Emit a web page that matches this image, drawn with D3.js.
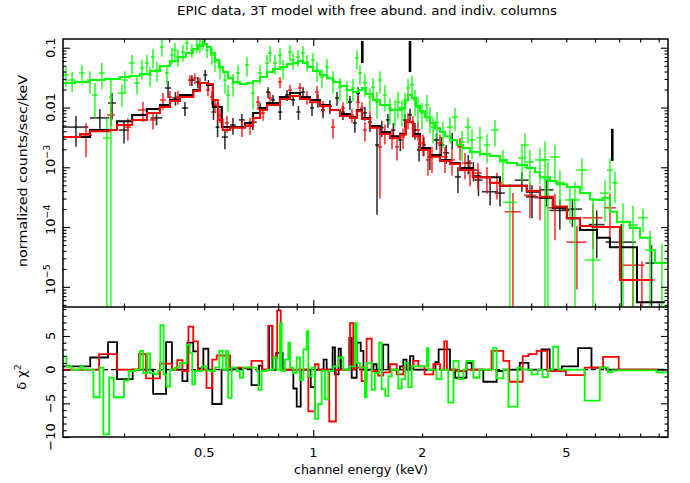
<!DOCTYPE html>
<html><head><meta charset="utf-8">
<script src="https://cdn.jsdelivr.net/npm/d3@7"></script>
<style>body{margin:0;background:#fff}svg{display:block}</style>
</head><body>
<svg id="c" width="690" height="483"></svg>
<script>
const titleText = "EPIC data, 3T model with free abund. and indiv. columns";
const xLabelText = "channel energy (keV)";
const yLabelText = "normalized counts/sec/keV";

// ---- data points (keV centre, half width, counts/s/keV, error)
const blkE = [0.221,0.2573,0.278,0.30,0.369,0.397,0.416,0.442,0.462,0.48,0.503,0.513,0.53,0.544,0.57,0.60,0.635,0.681,0.713,0.75,0.774,0.81,0.846,0.88,0.91,0.937,0.992,1.03,1.064,1.112,1.163,1.208,1.263,1.303,1.33,1.389,1.434,1.5,1.546,1.608,1.665,1.74,1.79,1.85,1.91,1.96,2.02,2.1,2.19,2.26,2.33,2.42,2.51,2.68,2.77,2.86,3.08,3.28,3.77,4.02,4.41,4.8,5.2,6.07,7.1,8.6];
const blkDE = [0.018,0.016,0.007,0.0095,0.014,0.0076,0.008,0.0085,0.0088,0.0061,0.0064,0.0065,0.0067,0.0069,0.011,0.011,0.012,0.017,0.009,0.0095,0.0098,0.0103,0.0108,0.0112,0.0116,0.0119,0.0126,0.0131,0.0135,0.0141,0.0148,0.0154,0.016,0.0166,0.0169,0.0177,0.0182,0.019,0.0197,0.0205,0.0212,0.0221,0.0228,0.0235,0.0243,0.025,0.0257,0.0267,0.042,0.043,0.0445,0.046,0.048,0.068,0.07,0.073,0.157,0.104,0.168,0.153,0.196,0.305,0.33,0.31,0.68,0.33];
const blkV = [0.0047,0.0067,0.0119,0.0042,0.0067,0.0212,0.0144,0.0098,0.0288,0.0267,0.035,0.0238,0.0084,0.0047,0.0032,0.0051,0.0062,0.0057,0.0098,0.0181,0.0134,0.0084,0.0162,0.0134,0.0084,0.0181,0.0098,0.0134,0.0091,0.0105,0.0144,0.0084,0.0124,0.0055,0.0174,0.0081,0.0057,0.00236,0.0046,0.0062,0.0042,0.00286,0.0062,0.0075,0.0042,0.00195,0.00236,0.0015,0.00286,0.00236,0.00174,0.00286,0.00069,0.00118,0.0009,0.00061,0.00039,0.00037,0.00061,0.00032,0.00042,0.00019,0.0002,0.00011,5.6e-5,2.5e-5];
const blkErr = [0.0025,0.0027,0.0056,0.0017,0.0017,0.0066,0.0037,0.0026,0.006,0.0056,0.0074,0.005,0.0022,0.0015,0.0012,0.0016,0.0016,0.0015,0.0021,0.0038,0.0028,0.0022,0.0034,0.0028,0.0022,0.0038,0.0026,0.0035,0.0024,0.0027,0.0037,0.0022,0.0032,0.0017,0.0045,0.0021,0.0018,0.0022,0.0014,0.0016,0.0013,0.001,0.0016,0.002,0.0013,0.0007,0.00085,0.0006,0.0009,0.00085,0.0006,0.0009,0.00032,0.00042,0.00032,0.00028,0.00016,0.00015,0.00022,0.00018,0.0002,0.0001,0.0001,0.00008,5.6e-5,2.5e-5];

const redE = [0.2355,0.276,0.3075,0.3384,0.3608,0.3843,0.4018,0.4226,0.4563,0.471,0.4863,0.5118,0.525,0.535,0.5524,0.5777,0.6354,0.6687,0.7036,0.7264,0.7595,0.8094,0.8627,0.919,0.9605,1.024,1.0636,1.1335,1.208,1.279,1.329,1.363,1.389,1.434,1.528,1.577,1.65,1.703,1.77,1.827,1.885,1.947,2.01,2.074,2.128,2.239,2.311,2.417,2.543,2.625,2.71,2.851,3.019,3.217,3.561,3.968,4.229,4.653,5.351,5.925,6.601,7.642,8.09];
const redDE = [0.009,0.007,0.0059,0.0108,0.0069,0.0073,0.0051,0.0054,0.0058,0.006,0.0062,0.0065,0.0067,0.0068,0.007,0.0074,0.012,0.0128,0.009,0.0092,0.0097,0.0103,0.011,0.0117,0.0122,0.013,0.0135,0.0144,0.0154,0.0163,0.0169,0.0173,0.0177,0.0182,0.0194,0.02,0.021,0.0217,0.0225,0.0232,0.024,0.0248,0.0256,0.0264,0.027,0.0427,0.044,0.046,0.0485,0.05,0.069,0.0725,0.096,0.123,0.181,0.151,0.161,0.237,0.34,0.377,0.252,0.583,0.617];
const redV = [0.00347,0.0075,0.0047,0.0091,0.0062,0.0134,0.015,0.015,0.0288,0.031,0.0257,0.0196,0.015,0.011,0.0075,0.0055,0.0047,0.0051,0.0123,0.0081,0.0144,0.0267,0.0196,0.0212,0.015,0.0181,0.0102,0.0047,0.0098,0.0075,0.0123,0.0098,0.0042,0.0067,0.0022,0.0038,0.0032,0.0022,0.0032,0.0062,0.0055,0.0042,0.00255,0.00133,0.0015,0.00255,0.0015,0.00133,0.0022,0.00118,0.0009,0.0008,0.00068,0.00055,0.00018,0.00034,0.00031,0.00021,5.6e-5,0.000143,0.00021,2.3e-5,1.3e-5];
const redErr = [0.002,0.0027,0.0019,0.0033,0.0019,0.0042,0.0039,0.0039,0.006,0.0065,0.0054,0.0041,0.0039,0.0029,0.002,0.0017,0.0015,0.0016,0.0032,0.0021,0.0037,0.0056,0.0041,0.0045,0.0039,0.0047,0.0027,0.0017,0.0025,0.002,0.0032,0.0025,0.0015,0.0021,0.0019,0.0014,0.0012,0.0009,0.0012,0.0019,0.0017,0.0015,0.001,0.0006,0.0007,0.001,0.0007,0.0006,0.0009,0.00055,0.00042,0.00038,0.00032,0.00026,0.00019,0.0002,0.00018,0.00015,4.7e-5,0.0001,0.00015,2.4e-5,1.35e-5];

const grnE = [0.2073,0.2157,0.2296,0.2416,0.2494,0.2606,0.269,0.276,0.296,0.3016,0.3154,0.3257,0.3362,0.347,0.354,0.3608,0.3699,0.3818,0.3942,0.407,0.4148,0.4226,0.4363,0.4477,0.4621,0.4771,0.4863,0.4957,0.5085,0.525,0.535,0.5524,0.5702,0.5814,0.6002,0.6195,0.656,0.6816,0.7126,0.7451,0.7595,0.784,0.8094,0.825,0.8627,0.8794,0.9074,0.9367,0.9605,0.9979,1.024,1.057,1.091,1.1335,1.185,1.239,1.287,1.32,1.346,1.389,1.434,1.462,1.499,1.528,1.577,1.629,1.682,1.714,1.758,1.792,1.827,1.874,1.91,1.947,1.997,2.061,2.101,2.142,2.197,2.282,2.386,2.463,2.576,2.676,2.745,2.887,3.019,3.176,3.342,3.494,3.772,3.844,3.968,4.229,4.366,4.45,4.653,4.803,5.118,5.283,5.525,5.925,6.394,6.601,6.814,7.171,7.642,8.143,8.514,9.19];
const grnDE = [0.004,0.0055,0.0044,0.0046,0.0048,0.005,0.0068,0.0035,0.0075,0.0058,0.006,0.006,0.0043,0.0044,0.0045,0.0046,0.0047,0.0049,0.005,0.0052,0.0053,0.0054,0.0055,0.0057,0.0059,0.006,0.0062,0.0063,0.0065,0.0067,0.0068,0.007,0.0073,0.0074,0.0076,0.0079,0.0083,0.0087,0.009,0.0095,0.0097,0.01,0.0103,0.0105,0.011,0.0112,0.0115,0.0119,0.0122,0.0127,0.013,0.0134,0.0139,0.0144,0.015,0.0158,0.0164,0.0168,0.0171,0.0177,0.0182,0.0186,0.019,0.0194,0.02,0.0207,0.0214,0.0218,0.0224,0.0228,0.0232,0.0238,0.0243,0.0248,0.0254,0.0262,0.0267,0.0272,0.028,0.0435,0.0455,0.047,0.049,0.051,0.052,0.055,0.058,0.081,0.085,0.155,0.096,0.098,0.1,0.134,0.14,0.113,0.148,0.153,0.163,0.168,0.211,0.3,0.2,0.126,0.13,0.23,0.24,0.26,0.27,0.29];
const grnV = [0.035,0.0288,0.0378,0.0288,0.0162,0.0378,0.0031,0.015,0.0174,0.0288,0.0555,0.0257,0.0458,0.0555,0.035,0.0698,0.0424,0.1027,0.0378,0.0755,0.0915,0.0698,0.0846,0.12,0.0915,0.111,0.111,0.1245,0.0915,0.0755,0.0576,0.0458,0.0288,0.0162,0.0257,0.0378,0.0514,0.0174,0.0378,0.0555,0.0815,0.0555,0.0755,0.0458,0.0846,0.0623,0.0698,0.0815,0.0576,0.0623,0.0424,0.0324,0.0475,0.0288,0.022,0.0196,0.0212,0.0672,0.0378,0.0257,0.015,0.022,0.0123,0.0288,0.0162,0.0098,0.0091,0.0123,0.0091,0.0119,0.0212,0.0238,0.01335,0.0102,0.0081,0.011,0.0069,0.0047,0.0057,0.0039,0.0047,0.0069,0.00265,0.0047,0.00286,0.0031,0.00236,0.0042,0.00123,0.00026,0.00143,0.00236,0.00123,0.00133,0.00133,0.00061,0.00149,0.00055,0.000284,0.000284,0.0009,2.8e-5,0.00037,0.0009,0.00055,0.000121,0.000108,0.000143,4.1e-5,2.5e-5];
const grnErr = [0.013,0.0104,0.0136,0.0118,0.0095,0.0178,0.0035,0.016,0.0071,0.0118,0.02,0.0092,0.0165,0.02,0.0126,0.025,0.0153,0.032,0.0136,0.0234,0.028,0.0216,0.026,0.031,0.024,0.029,0.029,0.032,0.024,0.0234,0.018,0.0165,0.0118,0.0076,0.0105,0.0136,0.0185,0.0082,0.0136,0.02,0.025,0.02,0.0234,0.0165,0.026,0.0193,0.0216,0.025,0.018,0.0193,0.0153,0.0117,0.0171,0.0118,0.009,0.008,0.0087,0.024,0.0136,0.0105,0.0062,0.009,0.0058,0.0118,0.0076,0.0046,0.0043,0.0058,0.0043,0.0056,0.0087,0.0098,0.0063,0.0048,0.0038,0.0052,0.0032,0.0022,0.0027,0.0018,0.0022,0.0029,0.0014,0.0022,0.0015,0.0016,0.0012,0.002,0.00073,0.00027,0.00085,0.0014,0.00073,0.0008,0.0014,0.00062,0.0009,0.00033,0.00017,0.0003,0.0005,0.00028,0.00025,0.0005,0.0003,0.00013,0.00012,0.00006,4.5e-5,2.8e-5];

// ---- folded models (bin edges in keV, value per bin)
const blkModE = [0.2035,0.2416,0.287,0.316,0.347,0.377,0.402,0.428,0.466,0.486,0.509,0.528,0.559,0.648,0.682,0.713,0.745,0.809,0.863,0.919,0.979,1.044,1.112,1.185,1.263,1.32,1.363,1.434,1.528,1.629,1.736,1.80,1.885,1.972,2.101,2.239,2.386,2.543,2.76,2.887,3.279,3.89,4.229,4.59,5.02,5.455,6.08,6.6,7.84,9.36];
const blkModV = [0.0032,0.0042,0.0059,0.0075,0.0094,0.011,0.0134,0.0162,0.0196,0.0257,0.0238,0.0102,0.0047,0.0055,0.0081,0.0098,0.0119,0.015,0.0175,0.015,0.0134,0.011,0.0091,0.0078,0.0069,0.0091,0.0067,0.0049,0.0039,0.0033,0.0036,0.0057,0.0036,0.0021,0.0016,0.00133,0.00118,0.00097,0.00071,0.00068,0.00049,0.00039,0.00031,0.00021,0.00014,8.9e-5,6.6e-5,4.6e-5,5.5e-6];
const redModE = [0.2035,0.2267,0.2416,0.2742,0.287,0.316,0.347,0.377,0.402,0.428,0.466,0.486,0.509,0.528,0.545,0.562,0.589,0.648,0.682,0.713,0.745,0.809,0.863,0.919,0.979,1.044,1.112,1.185,1.263,1.32,1.363,1.434,1.528,1.629,1.736,1.80,1.885,1.972,2.101,2.239,2.386,2.543,2.76,3.077,3.279,3.89,4.229,4.59,5.02,5.455,5.9,7.035,8.68];
const redModV = [0.0032,0.0036,0.004,0.0042,0.0051,0.0062,0.0081,0.0102,0.0128,0.015,0.0189,0.0257,0.0247,0.0134,0.0062,0.0042,0.0046,0.0049,0.0067,0.0091,0.011,0.0139,0.0156,0.0139,0.0123,0.0106,0.0091,0.0072,0.0067,0.0087,0.0064,0.0046,0.0036,0.0031,0.0035,0.0057,0.0033,0.00195,0.0015,0.00128,0.00113,0.0009,0.00068,0.00055,0.00049,0.0004,0.00032,0.00022,0.00014,0.000104,0.0001,1.3e-5];
const grnModE = [0.2035,0.2199,0.2416,0.2656,0.2922,0.3114,0.332,0.354,0.377,0.4018,0.4226,0.4448,0.4651,0.4802,0.4957,0.5085,0.5216,0.535,0.5489,0.5631,0.5814,0.6002,0.6274,0.656,0.6816,0.7126,0.7451,0.7742,0.8094,0.8464,0.8794,0.9074,0.9367,0.9667,0.9979,1.0435,1.091,1.1335,1.185,1.239,1.287,1.329,1.363,1.398,1.462,1.528,1.629,1.736,1.792,1.827,1.874,1.922,1.972,2.036,2.101,2.169,2.239,2.311,2.386,2.495,2.592,2.71,2.887,3.077,3.279,3.428,3.654,3.893,4.097,4.229,4.507,4.712,5.021,5.455,5.813,6.077,6.314,6.601,6.902,7.497,7.989,8.514,8.789,9.55];
const grnModV = [0.0257,0.0267,0.0288,0.030,0.0324,0.0337,0.0364,0.041,0.0494,0.060,0.0698,0.0815,0.095,0.107,0.115,0.1027,0.0815,0.0623,0.0475,0.0392,0.031,0.0267,0.0248,0.0257,0.0277,0.0324,0.0392,0.044,0.0475,0.0534,0.0555,0.060,0.0555,0.0475,0.041,0.035,0.031,0.0267,0.0229,0.0196,0.0181,0.0196,0.0212,0.0168,0.01335,0.011,0.0091,0.0098,0.01335,0.0162,0.0144,0.0106,0.0087,0.0069,0.0055,0.0045,0.0039,0.0033,0.00286,0.00236,0.0021,0.0018,0.00167,0.00155,0.00133,0.00118,0.00109,0.00097,0.00083,0.00068,0.00059,0.00052,0.00047,0.00037,0.00029,0.000284,0.00031,0.00018,0.000121,9.6e-5,6.6e-5,4.1e-5,2.5e-5];

// ---- residuals (delta chi), bin edges in keV + value per bin
const resBlkE = [0.2035,0.242,0.271,0.287,0.317,0.361,0.392,0.407,0.435,0.449,0.466,0.48,0.497,0.513,0.526,0.558,0.60,0.675,0.708,0.723,0.755,0.771,0.79,0.823,0.881,0.90,0.923,0.984,1.011,1.068,1.089,1.131,1.148,1.175,1.192,1.258,1.277,1.318,1.352,1.376,1.467,1.496,1.56,1.612,1.736,1.773,1.81,1.85,1.89,2.175,2.22,2.386,2.465,2.65,2.74,2.95,3.21,3.35,3.72,3.93,4.27,4.5,4.86,5.39,5.87,6.45,9.3];
const resBlkV = [0.5,1.8,4.1,-1.4,0,-3.6,4.1,0,-1.7,4,2.7,0.2,3.1,0,-5.1,0,0.2,-2.3,0.6,0,6.5,0,2.5,0,-2.8,-5.5,0,-2.6,0,1.5,0,3.3,-0.7,3.1,0,4.7,-1.2,4,2.8,0,0.8,0,3.7,0,0.5,1.5,0,2,0,1.1,3,0,-1.2,1,0,-1.8,-0.2,0,1,0,3,0,0.5,3.2,0.3,0];
const resRedE = [0.2035,0.256,0.287,0.33,0.345,0.377,0.407,0.421,0.435,0.452,0.466,0.48,0.507,0.526,0.541,0.589,0.675,0.723,0.751,0.771,0.795,0.813,0.969,1.011,1.034,1.107,1.155,1.263,1.29,1.303,1.36,1.404,1.45,1.51,1.56,1.629,1.70,1.773,1.89,1.95,2.03,2.146,2.24,2.30,2.34,2.49,2.63,3.11,3.35,3.48,3.79,3.93,4.14,4.43,4.99,5.62,6.32,6.98,8.87];
const resRedV = [0,2.3,0,2.3,-1.3,0.9,0,1.4,-0.2,6.4,4.2,0,-2.7,1.5,2.1,0.3,1.3,0,6.5,1.8,8.8,0,-6.2,0.8,0,-7.7,0,6.9,0,0.3,-1.7,4.6,-0.2,-0.9,-0.4,0.8,-0.7,0.5,1.3,0.5,-0.7,0.8,0,4.2,0,-0.2,0,2.8,1.3,-1.8,2,2.3,2.8,-0.2,-0.8,0.3,1.9,0];
const resGrnE = [0.2035,0.208,0.215,0.227,0.232,0.247,0.257,0.263,0.273,0.281,0.30,0.309,0.322,0.332,0.339,0.348,0.354,0.363,0.373,0.378,0.386,0.393,0.402,0.415,0.428,0.447,0.456,0.463,0.471,0.492,0.507,0.518,0.535,0.55,0.562,0.574,0.582,0.595,0.614,0.627,0.64,0.698,0.705,0.72,0.743,0.776,0.792,0.809,0.818,0.835,0.853,0.863,0.881,0.90,0.919,0.939,0.959,0.969,0.99,1.011,1.032,1.055,1.077,1.10,1.136,1.173,1.21,1.263,1.304,1.318,1.346,1.389,1.404,1.45,1.48,1.52,1.545,1.58,1.612,1.647,1.718,1.755,1.793,1.83,1.87,1.95,2.06,2.08,2.19,2.26,2.36,2.44,2.52,2.6,2.65,2.77,2.88,3.14,3.21,3.35,3.46,3.67,3.76,4.01,4.17,4.3,4.45,4.6,4.75,5.62,6.19,6.52,6.7,8.87,9.55];
const resGrnV = [2.0,0.5,0,0.5,0,-4.1,0.3,-9.6,-1.2,-4.1,-1.6,-0.2,0,2.8,-0.5,2.4,-0.5,-0.7,-0.1,6.6,-0.7,-2.5,0,0.3,1.0,3.7,2.5,-2.2,-0.2,0.5,-0.1,-0.2,0.3,2.8,0,2.8,-4.2,0.3,-0.2,-1.2,0.3,-0.2,-3,-0.2,0,1.8,0,6.9,-0.2,1.5,4,0.3,-0.5,1.8,-1.5,3,5.7,-1,0.3,-7.3,-5.1,-0.2,-4.4,-0.2,0.5,1.8,0,0.5,6.9,1,0.3,-4.1,1,-3,-0.5,4,-2.9,-3.9,-1,0,-2.8,-1.4,1,-2.6,0.5,0.5,3.2,0,-1.4,0,-4.9,1.3,-1.4,0,1.3,-1.2,0,3.2,-1.3,0,-5.5,0.3,0,-0.7,0,-1.1,0,3.4,0,-4.6,0.3,-0.4,-0.1,-0.4];

// ---- line markers (Mg, Si, Fe)
const markE = [1.366, 1.85, 6.7];
const markTop = [0.1294, 0.1294, 0.0044];
const markBot = [0.0555, 0.0392, 0.00128];

// ---- axis ticks
const xLabelTicks = [0.5, 1, 2, 5];
const xMajorTicks = [1];
const xMinorTicks = [0.3,0.4,0.5,0.6,0.7,0.8,0.9,2,3,4,5,6,7,8,9];
const yDecades = [1e-5,1e-4,1e-3,1e-2,1e-1];
const yDecadeLabels = [["10","−5"],["10","−4"],["10","−3"],["0.01",""],["0.1",""]];
const rMajor = [-10,-5,0,5];
const rLabels = ["−10","−5","0","5"];

// ---- layout
const L = 63, R = 668, T = 39, M = 307, B = 437;
const yMin = 4.6e-6, yMax = 0.14;
const x = d3.scaleLog().domain([0.2035, 9.55]).range([L, R]);
const y = d3.scaleLog().domain([yMin, yMax]).range([M, T]);
const yr = d3.scaleLinear().domain([-10, 9.3]).range([B, M]);
const FONT = "'DejaVu Sans', 'Liberation Sans', sans-serif";

const svg = d3.select("#c");
svg.append("rect").attr("width",690).attr("height",483).attr("fill","#fff");
const defs = svg.append("defs");
defs.append("clipPath").attr("id","ct").append("rect").attr("x",L).attr("y",T).attr("width",R-L).attr("height",M-T);
defs.append("clipPath").attr("id","cb").append("rect").attr("x",L).attr("y",M).attr("width",R-L).attr("height",B-M);

const gTop = svg.append("g").attr("clip-path","url(#ct)");
const gBot = svg.append("g").attr("clip-path","url(#cb)");

function drawData(g, E, DE, V, ER, color) {
  const grp = g.append("g").attr("stroke", color).attr("stroke-width", 1.6).attr("stroke-opacity", 0.8);
  const idx = d3.range(E.length);
  grp.selectAll("line.h").data(idx).join("line").attr("class","h")
    .attr("x1", i => x(E[i]-DE[i])).attr("x2", i => x(E[i]+DE[i]))
    .attr("y1", i => y(V[i])).attr("y2", i => y(V[i]));
  grp.selectAll("line.v").data(idx).join("line").attr("class","v")
    .attr("x1", i => x(E[i])).attr("x2", i => x(E[i]))
    .attr("y1", i => y(Math.max(V[i]-ER[i], yMin))).attr("y2", i => y(V[i]+ER[i]));
}
function stepPts(E, V) {
  const p = V.map((v,i) => [E[i], v]);
  p.push([E[E.length-1], V[V.length-1]]);
  return p;
}
function drawStep(g, E, V, sy, color, w) {
  const line = d3.line().x(d => x(d[0])).y(d => sy(d[1])).curve(d3.curveStepAfter);
  g.append("path").attr("d", line(stepPts(E, V))).attr("fill","none")
    .attr("stroke", color).attr("stroke-width", w).attr("stroke-linejoin","miter");
}

drawData(gTop, blkE, blkDE, blkV, blkErr, "#000");
drawData(gTop, redE, redDE, redV, redErr, "#ff0000");
drawData(gTop, grnE, grnDE, grnV, grnErr, "#00ff00");
drawStep(gTop, blkModE, blkModV, y, "#000", 2);
drawStep(gTop, redModE, redModV, y, "#ff0000", 2);
drawStep(gTop, grnModE, grnModV, y, "#00ff00", 2);

// line markers
gTop.append("g").selectAll("line").data(d3.range(markE.length)).join("line")
  .attr("x1", i => x(markE[i])).attr("x2", i => x(markE[i]))
  .attr("y1", i => y(markTop[i])).attr("y2", i => y(markBot[i]))
  .attr("stroke","#000").attr("stroke-width",2.6);

// residuals
gBot.append("line").attr("x1",L).attr("x2",R).attr("y1",yr(0)).attr("y2",yr(0))
  .attr("stroke","#000").attr("stroke-width",1.2).attr("stroke-dasharray","5,3");
drawStep(gBot, resBlkE, resBlkV, yr, "#000", 1.8);
drawStep(gBot, resRedE, resRedV, yr, "#ff0000", 1.8);
drawStep(gBot, resGrnE, resGrnV, yr, "#00ff00", 1.8);

// ---- ticks via d3 axes
const yMinor = [];
[1e-6,1e-5,1e-4,1e-3,1e-2,1e-1].forEach(d => { for (let k=2;k<10;k++){ const v=d*k; if (v>yMin && v<yMax) yMinor.push(v);} });
const rMinor = d3.range(-9, 10).filter(v => v % 5 !== 0);
function tk(gen, vals, size) {
  return g => { g.call(gen.tickValues(vals).tickSize(size).tickFormat("")); g.select(".domain").remove();
    g.selectAll(".tick line").attr("stroke","#000").attr("stroke-width",1.1); };
}
const axes = svg.append("g");
[[T, d3.axisBottom], [M, d3.axisTop], [M, d3.axisBottom], [B, d3.axisTop]].forEach(([yy, A]) => {
  axes.append("g").attr("transform",`translate(0,${yy})`).call(tk(A(x), xMinorTicks, 3.5));
  axes.append("g").attr("transform",`translate(0,${yy})`).call(tk(A(x), xMajorTicks, 7));
});
axes.append("g").attr("transform",`translate(${L},0)`).call(tk(d3.axisRight(y), yMinor, 3.5));
axes.append("g").attr("transform",`translate(${L},0)`).call(tk(d3.axisRight(y), yDecades, 7));
axes.append("g").attr("transform",`translate(${R},0)`).call(tk(d3.axisLeft(y), yMinor, 3.5));
axes.append("g").attr("transform",`translate(${R},0)`).call(tk(d3.axisLeft(y), yDecades, 7));
axes.append("g").attr("transform",`translate(${L},0)`).call(tk(d3.axisRight(yr), rMinor, 3.5));
axes.append("g").attr("transform",`translate(${L},0)`).call(tk(d3.axisRight(yr), rMajor, 7));
axes.append("g").attr("transform",`translate(${R},0)`).call(tk(d3.axisLeft(yr), rMinor, 3.5));
axes.append("g").attr("transform",`translate(${R},0)`).call(tk(d3.axisLeft(yr), rMajor, 7));

// frames
svg.append("rect").attr("x",L).attr("y",T).attr("width",R-L).attr("height",B-T)
  .attr("fill","none").attr("stroke","#000").attr("stroke-width",1.5);
svg.append("line").attr("x1",L).attr("x2",R).attr("y1",M).attr("y2",M).attr("stroke","#000").attr("stroke-width",1.5);

// ---- text
const txt = svg.append("g").attr("font-family", FONT).attr("font-size", 13).attr("fill","#000");
txt.append("text").attr("x",367).attr("y",15).attr("text-anchor","middle")
  .attr("textLength",380).attr("lengthAdjust","spacingAndGlyphs").text(titleText);
txt.append("text").attr("x",361).attr("y",474).attr("text-anchor","middle")
  .attr("textLength",134).attr("lengthAdjust","spacingAndGlyphs").text(xLabelText);
txt.selectAll("text.xt").data(xLabelTicks).join("text").attr("class","xt")
  .attr("x", d => x(d)).attr("y", 457).attr("text-anchor","middle").text(d => d);
// y tick labels (rotated)
yDecades.forEach((d,i) => {
  const g = txt.append("g").attr("transform",`translate(55,${y(d)}) rotate(-90)`);
  const lab = yDecadeLabels[i];
  if (lab[1] === "") {
    g.append("text").attr("text-anchor","middle").text(lab[0]);
  } else {
    const t = g.append("text").attr("x",-8).attr("text-anchor","start");
    t.append("tspan").text(lab[0]);
    t.append("tspan").attr("font-size",9.5).attr("dy",-5.5).text(lab[1]);
  }
});
rMajor.forEach((d,i) => {
  txt.append("text").attr("transform",`translate(55,${yr(d)}) rotate(-90)`)
    .attr("text-anchor","middle").text(rLabels[i]);
});
txt.append("text").attr("transform",`translate(26.5,171) rotate(-90)`)
  .attr("text-anchor","middle").attr("textLength",192).attr("lengthAdjust","spacingAndGlyphs").text(yLabelText);
const dl = txt.append("text").attr("transform",`translate(26,377) rotate(-90)`).attr("text-anchor","middle");
dl.append("tspan").text("δ  χ");
dl.append("tspan").attr("font-size",9.5).attr("dy",-5.5).text("2");
</script>
</body></html>
